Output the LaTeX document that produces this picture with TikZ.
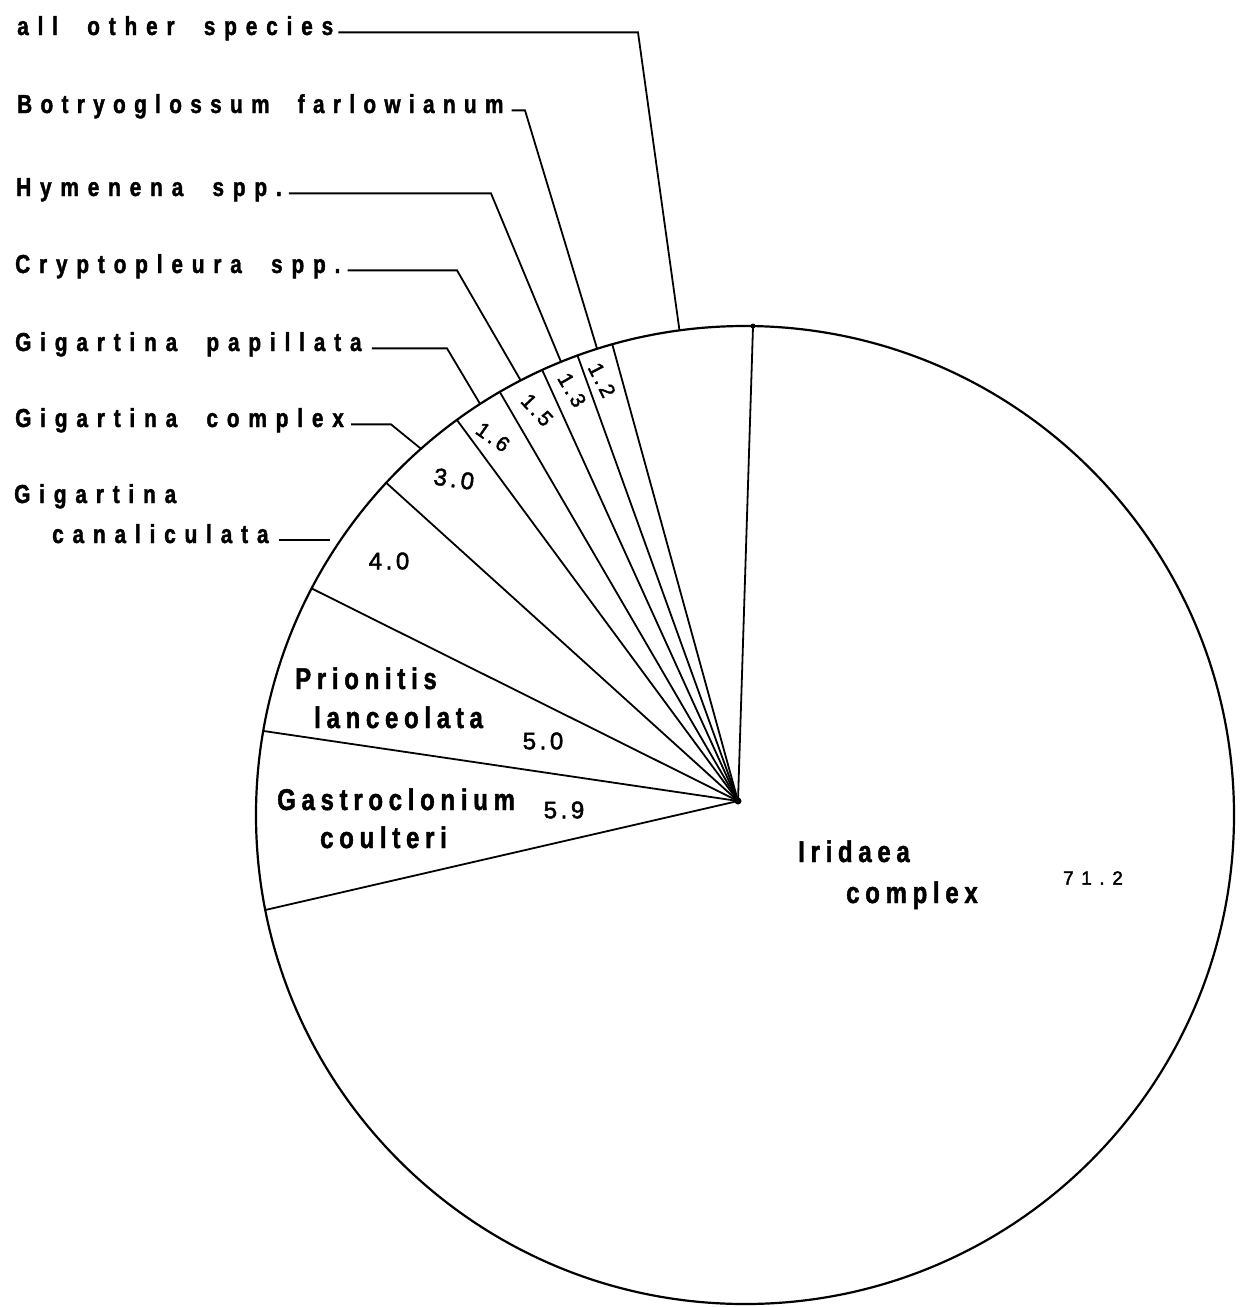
\documentclass[tikz,border=0pt]{standalone}
\usepackage{fontspec}
\setmainfont{Liberation Sans}
\newfontfamily\labelfont[FakeStretch=0.8,FakeBold=1.5,LetterSpace=34,WordSpace=2]{Liberation Sans Bold}
\newfontfamily\inlabelfont[FakeStretch=0.8,FakeBold=1.5,LetterSpace=19]{Liberation Sans Bold}
\newfontfamily\numfont[LetterSpace=15,FakeBold=2]{Liberation Sans}
\usetikzlibrary{positioning}
\tikzset{species/.style={anchor=base west,inner sep=0pt,font=\labelfont\fontsize{26}{30}\selectfont}}
\tikzset{inlabel/.style={anchor=base west,inner sep=0pt,font=\inlabelfont\fontsize{30}{34}\selectfont}}
\tikzset{pct/.style={inner sep=0pt,font=\numfont\fontsize{24}{28}\selectfont}}
\tikzset{slim/.style={inner sep=0pt,font=\numfont\fontsize{21}{24}\selectfont}}
\tikzset{rim/.style={draw,line width=2.2pt}}
\tikzset{spoke/.style={draw,line width=1.8pt}}
\tikzset{leader/.style={draw,line width=1.8pt}}

\begin{document}
\begin{tikzpicture}[x=1pt,y=-1pt]
    \useasboundingbox (0,0) rectangle (1240,1307);
    \coordinate (cen) at (745,815);
    \coordinate (hub) at (738,801);

    % slice edges on the rim
    \coordinate (r0) at ([shift={(-89.06:489)}]cen);
    \coordinate (r1) at ([shift={(-105.75:489)}]cen);
    \coordinate (r2) at ([shift={(-110.03:489)}]cen);
    \coordinate (r3) at ([shift={(-114.5:489)}]cen);
    \coordinate (r4) at ([shift={(-120.1:489)}]cen);
    \coordinate (r5) at ([shift={(-126.1:489)}]cen);
    \coordinate (r6) at ([shift={(-137.2:489)}]cen);
    \coordinate (r7) at ([shift={(-152.4:489)}]cen);
    \coordinate (r8) at ([shift={(-170.1:489)}]cen);
    \coordinate (r9) at ([shift={(-191.2:489)}]cen);

    \path[rim] (cen) circle[radius=489];
        \path[spoke] (hub) -- (r0);
        \path[spoke] (hub) -- (r1);
        \path[spoke] (hub) -- (r2);
        \path[spoke] (hub) -- (r3);
        \path[spoke] (hub) -- (r4);
        \path[spoke] (hub) -- (r5);
        \path[spoke] (hub) -- (r6);
        \path[spoke] (hub) -- (r7);
        \path[spoke] (hub) -- (r8);
        \path[spoke] (hub) -- (r9);
    \fill (hub) circle[radius=3.5];
    \fill (r0) circle[radius=2.5];

    % species names on the left
    \node[species] (other) at (17,35) {all other species};
    \node[species] (botryo) at (17,113) {\addfontfeature{LetterSpace=32}Botryoglossum farlowianum};
    \node[species] (hymen) at (16,196) {Hymenena spp.};
    \node[species] (crypto) at (15,273) {Cryptopleura spp.};
    \node[species] (papill) at (15,351) {Gigartina papillata};
    \node[species] (gcomplex) at (15,427) {Gigartina complex};
    \node[species] (canal) at (14,503) {Gigartina};
    \node[species] (canal2) at (52,543) {canaliculata};

    % leader ends on the rim and bends
    \coordinate (eother) at ([shift={(-97.7:489)}]cen);
    \coordinate (ebotryo) at ([shift={(-107.6:489)}]cen);
    \coordinate (ehymen) at ([shift={(-112.1:489)}]cen);
    \coordinate (ecrypto) at ([shift={(-117.3:489)}]cen);
    \coordinate (epapill) at ([shift={(-122.8:489)}]cen);
    \coordinate (egcomplex) at ([shift={(-131.5:489)}]cen);
    \coordinate (kother) at (638,0);
    \coordinate (kbotryo) at (525,0);
    \coordinate (khymen) at (491,0);
    \coordinate (kcrypto) at (457,0);
    \coordinate (kpapill) at (447,0);
    \coordinate (kgcomplex) at (391,0);
    \coordinate (ecanal) at (330,538);

        \path[leader] ([xshift=5pt]other.mid east) -- (other.mid east -| kother) -- (eother);
        \path[leader] ([xshift=8pt]botryo.mid east) -- (botryo.mid east -| kbotryo) -- (ebotryo);
        \path[leader] ([xshift=7pt]hymen.mid east) -- (hymen.mid east -| khymen) -- (ehymen);
        \path[leader] ([xshift=7pt]crypto.mid east) -- (crypto.mid east -| kcrypto) -- (ecrypto);
        \path[leader] ([xshift=10pt]papill.mid east) -- (papill.mid east -| kpapill) -- (epapill);
        \path[leader] ([xshift=7pt]gcomplex.mid east) -- (gcomplex.mid east -| kgcomplex) -- (egcomplex);
        \path[leader] ([xshift=10pt]canal2.mid east) -- (canal2.mid east -| ecanal);

    % names inside the pie
    \node[inlabel] (prio) at (295,689) {Prionitis};
    \node[inlabel] (prio2) at (314,728) {lanceolata};
    \node[inlabel] (gast) at (277,810) {Gastroclonium};
    \node[inlabel] (gast2) at (320,848) {coulteri};
    \node[inlabel] (irid) at (798,862) {Iridaea};
    \node[inlabel] (irid2) at (846,903) {complex};

    % percentages
    \node[pct] (vprio) at (543,741) {5.0};
    \node[pct] (vgast) at (564,810) {5.9};
    \node[pct] (vcanal) at (389,561) {4.0};
    \node[pct,rotate=-8] (vgcomplex) at (454,479) {3.0};
    \node[slim,font=\numfont\fontsize{19}{22}\selectfont\addfontfeature{LetterSpace=40}] (virid) at (1093,878) {71.2};
    \node[slim,rotate=-35] (vpapill) at (493,437) {1.6};
    \node[slim,rotate=-47] (vcrypto) at (537,410) {1.5};
    \node[slim,rotate=-60] (vhymen) at (572,390) {1.3};
    \node[slim,rotate=-63] (vbotryo) at (602,380) {1.2};
\end{tikzpicture}
\end{document}
